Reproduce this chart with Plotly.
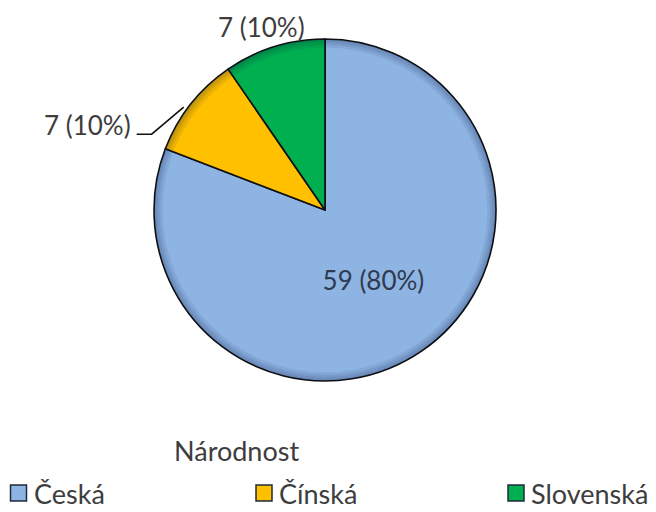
import math
import plotly.graph_objects as go

# Nationality breakdown
categories = ["Česká", "Čínská", "Slovenská"]
counts = [59, 7, 7]
shown_percent = [80, 10, 10]
colors = ["#8EB4E3", "#FFC000", "#00B050"]

W, H = 656, 512
cx, cy, r = 325, 210, 171
FONT = "Lato, Open Sans, sans-serif"
TXT = "#3d3d3d"

# Legend key centres (pixels from left / top)
key_x = [18.5, 264, 516]
key_y = 493

labels_text = [f"{c} ({p}%)" for c, p in zip(counts, shown_percent)]
pie_domain = dict(x=[(cx - r) / W, (cx + r) / W],
                  y=[(H - cy - r) / H, (H - cy + r) / H])


def px(x, y):
    return x / W, 1 - y / H


def rim_point(i, frac=1.0):
    """Pixel point at the middle angle of slice i (clockwise from 12 o'clock)."""
    total = sum(counts)
    start = sum(counts[:i]) / total * 360
    mid = math.radians(start + counts[i] / total * 180)
    return cx + frac * r * math.sin(mid), cy - frac * r * math.cos(mid)


fig = go.Figure()
fig.add_trace(go.Pie(
    labels=categories,
    values=counts,
    text=labels_text,
    textinfo="text",
    textposition=["inside", "none", "none"],
    insidetextorientation="horizontal",
    direction="clockwise",
    rotation=0,
    sort=False,
    marker=dict(colors=colors, line=dict(color="#111111", width=1.6)),
    textfont=dict(family=FONT, size=26, color="#2f3a4f"),
    domain=pie_domain,
    showlegend=False,
))

# Soft darkening toward the rim (bevel look)
for hole in [0.95, 0.965, 0.978, 0.99]:
    fig.add_trace(go.Pie(
        values=[1], labels=[""], hole=hole, sort=False,
        marker=dict(colors=["rgba(15,25,60,0.08)"], line=dict(width=0)),
        textinfo="none", hoverinfo="skip", showlegend=False,
        domain=pie_domain,
    ))

# Legend keys drawn on a hidden pixel-sized axis pair, names beside them
for name, col, kx in zip(categories, colors, key_x):
    fig.add_trace(go.Scatter(
        x=[kx], y=[H - key_y], mode="markers",
        marker=dict(symbol="square", size=16, color=col,
                    line=dict(color="#1f2a3a", width=1.5)),
        cliponaxis=False, hoverinfo="skip", showlegend=False,
    ))
    fig.add_annotation(
        text=name, x=kx + 13, y=H - key_y, xref="x", yref="y",
        xanchor="left", yanchor="middle", showarrow=False,
        font=dict(family=FONT, size=27, color=TXT),
    )

# Outside label for Čínská with leader line
rx, ry = rim_point(1)
fig.add_shape(
    type="path", xref="paper", yref="paper",
    path="M {:.4f},{:.4f} L {:.4f},{:.4f} L {:.4f},{:.4f}".format(
        *px(rx - 7, ry + 3), *px(rx - 39, ry + 30), *px(rx - 54, ry + 30)),
    line=dict(color="#111111", width=1.6),
)
tx, ty = px(rx - 58, ry + 21)
fig.add_annotation(text=labels_text[1], x=tx, y=ty, xref="paper", yref="paper",
                   xanchor="right", yanchor="middle", showarrow=False,
                   font=dict(family=FONT, size=26, color=TXT))

# Outside label for Slovenská
rx, ry = rim_point(2)
tx, ty = px(rx - 13, ry - 20)
fig.add_annotation(text=labels_text[2], x=tx, y=ty, xref="paper", yref="paper",
                   xanchor="center", yanchor="middle", showarrow=False,
                   font=dict(family=FONT, size=26, color=TXT))

# Legend title
fig.add_annotation(
    text="Národnost", x=236 / W, y=1 - 450 / H, xref="paper", yref="paper",
    xanchor="center", yanchor="middle",
    showarrow=False, font=dict(family=FONT, size=27, color=TXT),
)

fig.update_layout(
    width=W, height=H,
    margin=dict(l=0, r=0, t=0, b=0, autoexpand=False),
    paper_bgcolor="white",
    plot_bgcolor="rgba(0,0,0,0)",
    showlegend=False,
    xaxis=dict(visible=False, range=[0, W], domain=[0, 1], fixedrange=True),
    yaxis=dict(visible=False, range=[0, H], domain=[0, 1], fixedrange=True),
)

fig.write_html("out.html")
